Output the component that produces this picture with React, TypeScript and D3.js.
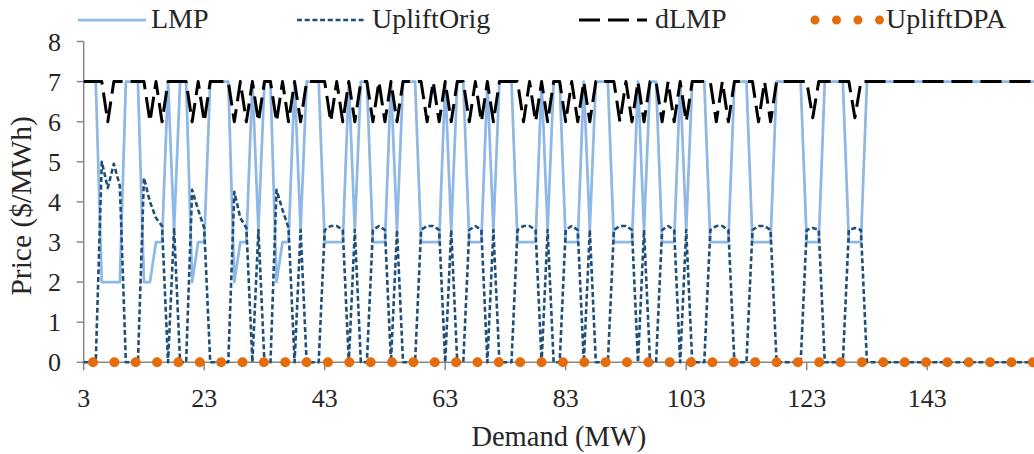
import React from 'react';
import * as d3 from 'd3';

// demand in MW, one point per MW
const demand = d3.range(3, 162);

// values, 10 per row starting at 3 MW
const lmp = [
  7, 7, 7, 2, 2, 2, 2, 7, 7, 7,
  2, 2, 3, 3, 7, 3.3, 7, 7, 2, 3,
  3, 7, 7, 7, 7, 2, 3, 3, 7, 3.3,
  7, 7, 2, 3, 3, 7, 3.3, 7, 7, 7,
  3, 3, 3, 3, 7, 3.3, 7, 7, 3, 3,
  3, 7, 3.3, 7, 7, 7, 3, 3, 3, 3,
  7, 3.3, 7, 7, 3, 3, 3, 7, 3.3, 7,
  7, 7, 3, 3, 3, 3, 7, 3.3, 7, 7,
  3, 3, 3, 7, 3.3, 7, 7, 7, 3, 3,
  3, 3, 7, 3.3, 7, 7, 3, 3, 3, 7,
  3.3, 7, 7, 7, 3, 3, 3, 3, 7, 7,
  7, 3, 3, 3, 3, 7, 7, 7, 7, 7,
  3, 3, 3, 7, 7, 7, 7, 3, 3, 3,
  7, 7, 7, 7, 7, 7, 7, 7, 7, 7,
  7, 7, 7, 7, 7, 7, 7, 7, 7, 7,
  7, 7, 7, 7, 7, 7, 7, 7, 7,
];

const upliftOrig = [
  0, 0, 0, 5.0, 4.35, 4.95, 4.4, 0, 0, 0,
  4.6, 4.0, 3.6, 3.4, 0, 3.35, 0, 0, 4.3, 3.8,
  3.35, 0, 0, 0, 0, 4.25, 3.6, 3.35, 0, 3.3,
  0, 0, 4.3, 3.8, 3.35, 0, 3.3, 0, 0, 0,
  3.3, 3.4, 3.4, 3.3, 0, 3.3, 0, 0, 3.3, 3.4,
  3.3, 0, 3.3, 0, 0, 0, 3.3, 3.4, 3.4, 3.3,
  0, 3.3, 0, 0, 3.3, 3.4, 3.3, 0, 3.3, 0,
  0, 0, 3.3, 3.4, 3.4, 3.3, 0, 3.3, 0, 0,
  3.3, 3.4, 3.3, 0, 3.3, 0, 0, 0, 3.3, 3.4,
  3.4, 3.3, 0, 3.3, 0, 0, 3.3, 3.4, 3.3, 0,
  3.3, 0, 0, 0, 3.3, 3.4, 3.4, 3.3, 0, 0,
  0, 3.3, 3.4, 3.4, 3.3, 0, 0, 0, 0, 0,
  3.3, 3.35, 3.3, 0, 0, 0, 0, 3.3, 3.35, 3.3,
  0, 0, 0, 0, 0, 0, 0, 0, 0, 0,
  0, 0, 0, 0, 0, 0, 0, 0, 0, 0,
  0, 0, 0, 0, 0, 0, 0, 0, 0,
];

const dLmp = [
  7, 7, 7, 7, 6, 7, 7, 7, 7, 7,
  7, 6, 7, 6, 7, 7, 7, 7, 6, 7,
  6, 7, 7, 7, 7, 6, 7, 6, 7, 6,
  7, 7, 6, 7, 6, 7, 6, 7, 7, 7,
  7, 6, 7, 6, 7, 6, 7, 7, 6, 7,
  6, 7, 6, 7, 7, 7, 7, 6, 7, 6,
  7, 6, 7, 7, 6, 7, 6, 7, 6, 7,
  7, 7, 7, 6, 7, 6, 7, 6, 7, 7,
  6, 7, 6, 7, 6, 7, 7, 7, 7, 6,
  7, 6, 7, 6, 7, 7, 6, 7, 6, 7,
  6, 7, 7, 7, 7, 6, 7, 6, 7, 7,
  7, 7, 6, 7, 6, 7, 7, 7, 7, 7,
  7, 6.1, 7, 7, 7, 7, 7, 7, 6.1, 7,
  7, 7, 7, 7, 7, 7, 7, 7, 7, 7,
  7, 7, 7, 7, 7, 7, 7, 7, 7, 7,
  7, 7, 7, 7, 7, 7, 7, 7, 7,
];

const upliftDpa = [
  0, 0, 0, 0, 0, 0, 0, 0, 0, 0,
  0, 0, 0, 0, 0, 0, 0, 0, 0, 0,
  0, 0, 0, 0, 0, 0, 0, 0, 0, 0,
  0, 0, 0, 0, 0, 0, 0, 0, 0, 0,
  0, 0, 0, 0, 0, 0, 0, 0, 0, 0,
  0, 0, 0, 0, 0, 0, 0, 0, 0, 0,
  0, 0, 0, 0, 0, 0, 0, 0, 0, 0,
  0, 0, 0, 0, 0, 0, 0, 0, 0, 0,
  0, 0, 0, 0, 0, 0, 0, 0, 0, 0,
  0, 0, 0, 0, 0, 0, 0, 0, 0, 0,
  0, 0, 0, 0, 0, 0, 0, 0, 0, 0,
  0, 0, 0, 0, 0, 0, 0, 0, 0, 0,
  0, 0, 0, 0, 0, 0, 0, 0, 0, 0,
  0, 0, 0, 0, 0, 0, 0, 0, 0, 0,
  0, 0, 0, 0, 0, 0, 0, 0, 0, 0,
  0, 0, 0, 0, 0, 0, 0, 0, 0,
];

const xTicks = [3, 23, 43, 63, 83, 103, 123, 143];
const yTicks = [0, 1, 2, 3, 4, 5, 6, 7, 8];

const FONT = '"Liberation Serif", "Times New Roman", serif';
const AXIS = '#898989';
const TEXT = '#262626';

const series = [
  { name: 'LMP', values: lmp, color: '#8FB8E6', width: 2.75, dash: undefined, offset: 0, cap: 'butt', lx: 78, tx: 151 },
  { name: 'UpliftOrig', values: upliftOrig, color: '#1F4E79', width: 2.6, dash: '5 2.7', offset: 0, cap: 'butt', lx: 297, tx: 372 },
  { name: 'dLMP', values: dLmp, color: '#000000', width: 3, dash: '21 8', offset: 0, cap: 'butt', lx: 579, tx: 655 },
  { name: 'UpliftDPA', values: upliftDpa, color: '#E46C0A', width: 10, dash: '0 21.36', offset: 12.06, cap: 'round', lx: 815, tx: 886 },
];

export default function App() {
  const width = 1034;
  const height = 454;
  const left = 83.7;
  const bottom = 362.3;
  const top = 41.5;

  const x = d3.scaleLinear().domain([3, 161]).range([left, left + 158 * 6.025]);
  const y = d3.scaleLinear().domain([0, 8]).range([bottom, top]);

  const line = d3.line<number>()
    .x((_, i) => x(demand[i]))
    .y(d => y(d));

  return (
    <svg width={width} height={height} style={{ position: 'absolute', left: 0, top: 0, background: '#fff' }}
      fontFamily={FONT}>
      {/* legend */}
      {series.map(s => (
        <g key={s.name}>
          <line x1={s.lx} x2={s.name === 'UpliftDPA' ? 881 : s.lx + 68} y1={20} y2={20}
            stroke={s.color} strokeWidth={s.name === 'UpliftDPA' ? 9 : s.width}
            strokeDasharray={s.name === 'UpliftDPA' ? '0 21.5' : s.dash}
            strokeLinecap={s.cap as any} />
          <text x={s.tx} y={28} fontSize={28} fill={TEXT}>{s.name}</text>
        </g>
      ))}

      {/* axes */}
      <line x1={left} x2={left} y1={top} y2={bottom} stroke={AXIS} strokeWidth={1.5} />
      {yTicks.map(t => (
        <g key={'y' + t}>
          <line x1={left - 7} x2={left} y1={y(t)} y2={y(t)} stroke={AXIS} strokeWidth={1.5} />
          <text x={61} y={y(t) + 9} fontSize={26} textAnchor="end" fill={TEXT}>{t}</text>
        </g>
      ))}
      <line x1={left} x2={width} y1={bottom} y2={bottom} stroke={AXIS} strokeWidth={1.5} />
      {xTicks.map(t => (
        <g key={'x' + t}>
          <line x1={x(t)} x2={x(t)} y1={bottom} y2={bottom + 8} stroke={AXIS} strokeWidth={1.5} />
          <text x={x(t)} y={407} fontSize={26} textAnchor="middle" fill={TEXT}>{t}</text>
        </g>
      ))}
      <text x={(left + width) / 2} y={446} fontSize={28.5} textAnchor="middle" fill={TEXT}>Demand (MW)</text>
      <text transform={`translate(31, ${(top + bottom) / 2 + 4}) rotate(-90)`} fontSize={29.5} textAnchor="middle" fill={TEXT}>
        Price ($/MWh)
      </text>

      {/* series */}
      {series.map(s => (
        <path key={'p' + s.name} d={line(s.values) || ''} fill="none" stroke={s.color} strokeWidth={s.width}
          strokeDasharray={s.dash} strokeDashoffset={s.offset} strokeLinecap={s.cap as any}
          strokeLinejoin="round" />
      ))}
    </svg>
  );
}
